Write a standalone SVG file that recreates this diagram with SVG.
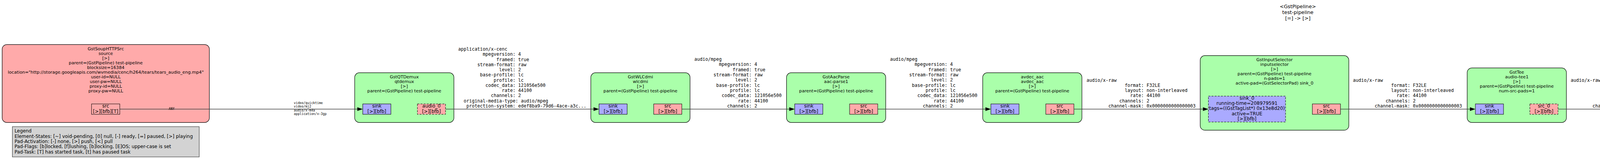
<svg xmlns="http://www.w3.org/2000/svg" width="6645" height="408" viewBox="0 0 6645 408">
<style>
.nd{stroke:#000;stroke-width:1.2}
.g{fill:#aaffaa}.r{fill:#ffaaaa}.b{fill:#aaaaff}.l{fill:#ddddff}.w{fill:#ffffff}
.pd{stroke:#000;stroke-width:1}
.ds{stroke-dasharray:5,3}
.lb{font-family:"DejaVu Sans","Liberation Sans",sans-serif;font-size:11.1px;text-anchor:middle;fill:#000}
.pt{font-family:"DejaVu Sans","Liberation Sans",sans-serif;font-size:12px;text-anchor:middle;fill:#000}
.tt{font-family:"DejaVu Sans","Liberation Sans",sans-serif;font-size:12.8px;text-anchor:middle;fill:#000}
.lg{font-family:"DejaVu Sans","Liberation Sans",sans-serif;font-size:11.9px;fill:#000}
.mo{font-family:"DejaVu Sans Mono","Liberation Mono",monospace;font-size:11.6px;fill:#000}
.sm{font-family:"DejaVu Sans Mono","Liberation Mono",monospace;font-size:8.2px;fill:#000}
.e{stroke:#444;stroke-width:1.5;fill:none}
.e2{stroke:#111;stroke-width:1.1;fill:none}
.ah{fill:#000}
</style>
<rect x="0" y="0" width="6645" height="408" fill="#ffffff"/>
<g id="title">
<text class="tt" x="3322.5" y="20.7">&lt;GstPipeline&gt;</text>
<text class="tt" x="3322.5" y="35.7">test-pipeline</text>
<text class="tt" x="3322.5" y="50.7">[=] -&gt; [&gt;]</text>
</g>
<g id="legend">
<rect x="31.6" y="325" width="478.4" height="77.7" fill="#d3d3d3" stroke="#444" stroke-width="1.2"/>
<text class="lg" x="37.2" y="340">Legend</text>
<text class="lg" x="37.2" y="354">Element-States: [~] void-pending, [0] null, [-] ready, [=] paused, [&gt;] playing</text>
<text class="lg" x="37.2" y="367">Pad-Activation: [-] none, [&gt;] push, [&lt;] pull</text>
<text class="lg" x="37.2" y="380.3">Pad-Flags: [b]locked, [f]lushing, [b]locking, [E]OS; upper-case is set</text>
<text class="lg" x="37.2" y="393.6">Pad-Task: [T] has started task, [t] has paused task</text>
</g>
<g id="source">
<rect class="nd r" x="5.5" y="114.3" width="530.5" height="200" rx="12"/>
<text class="lb"><tspan x="270.75" y="129.3">GstSoupHTTPSrc</tspan><tspan x="270.75" y="141.3">source</tspan><tspan x="270.75" y="153.3">[&gt;]</tspan><tspan x="270.75" y="165.3">parent=(GstPipeline) test-pipeline</tspan><tspan x="270.75" y="177.3">blocksize=16384</tspan><tspan x="270.75" y="189.3">location="http://storage.googleapis.com/wvmedia/cenc/h264/tears/tears_audio_eng.mp4"</tspan><tspan x="270.75" y="201.3">user-id=NULL</tspan><tspan x="270.75" y="213.3">user-pw=NULL</tspan><tspan x="270.75" y="225.3">proxy-id=NULL</tspan><tspan x="270.75" y="237.3">proxy-pw=NULL</tspan></text>
<rect class="pd r" x="234.3" y="266.7" width="72.4" height="26.6"/>
<text class="pt"><tspan x="270.5" y="275.9">src</tspan><tspan x="270.5" y="289.6">[&gt;][bfb][T]</tspan></text>
</g>
<g id="qtdemux">
<rect class="nd g" x="908" y="186.7" width="254" height="127.6" rx="12"/>
<text class="lb"><tspan x="1035" y="201.3">GstQTDemux</tspan><tspan x="1035" y="213.3">qtdemux</tspan><tspan x="1035" y="225.3">[&gt;]</tspan><tspan x="1035" y="237.3">parent=(GstPipeline) test-pipeline</tspan></text>
<rect class="pd b" x="928.7" y="266.7" width="72" height="26.6"/>
<text class="pt"><tspan x="964.7" y="275.9">sink</tspan><tspan x="964.7" y="289.6">[&gt;][bfb]</tspan></text>
<rect class="pd r ds" x="1068.5" y="266.7" width="72" height="26.6"/>
<text class="pt"><tspan x="1104.5" y="275.9">audio_0</tspan><tspan x="1104.5" y="289.6">[&gt;][bfb]</tspan></text>
</g>
<g id="wlcdmi">
<rect class="nd g" x="1512.5" y="186.7" width="254" height="127.6" rx="12"/>
<text class="lb"><tspan x="1639.5" y="201.3">GstWLCdmi</tspan><tspan x="1639.5" y="213.3">wlcdmi</tspan><tspan x="1639.5" y="225.3">[&gt;]</tspan><tspan x="1639.5" y="237.3">parent=(GstPipeline) test-pipeline</tspan></text>
<rect class="pd b" x="1533.5" y="266.7" width="72" height="26.6"/>
<text class="pt"><tspan x="1569.5" y="275.9">sink</tspan><tspan x="1569.5" y="289.6">[&gt;][bfb]</tspan></text>
<rect class="pd r" x="1673.5" y="266.7" width="72" height="26.6"/>
<text class="pt"><tspan x="1709.5" y="275.9">src</tspan><tspan x="1709.5" y="289.6">[&gt;][bfb]</tspan></text>
</g>
<g id="aac-parse1">
<rect class="nd g" x="2013.5" y="186.7" width="254" height="127.6" rx="12"/>
<text class="lb"><tspan x="2140.5" y="201.3">GstAacParse</tspan><tspan x="2140.5" y="213.3">aac-parse1</tspan><tspan x="2140.5" y="225.3">[&gt;]</tspan><tspan x="2140.5" y="237.3">parent=(GstPipeline) test-pipeline</tspan></text>
<rect class="pd b" x="2034.5" y="266.7" width="72" height="26.6"/>
<text class="pt"><tspan x="2070.5" y="275.9">sink</tspan><tspan x="2070.5" y="289.6">[&gt;][bfb]</tspan></text>
<rect class="pd r" x="2175" y="266.7" width="72" height="26.6"/>
<text class="pt"><tspan x="2211" y="275.9">src</tspan><tspan x="2211" y="289.6">[&gt;][bfb]</tspan></text>
</g>
<g id="avdec_aac">
<rect class="nd g" x="2515.7" y="186.7" width="254" height="127.6" rx="12"/>
<text class="lb"><tspan x="2642.7" y="201.3">avdec_aac</tspan><tspan x="2642.7" y="213.3">avdec_aac</tspan><tspan x="2642.7" y="225.3">[&gt;]</tspan><tspan x="2642.7" y="237.3">parent=(GstPipeline) test-pipeline</tspan></text>
<rect class="pd b" x="2536.7" y="266.7" width="72" height="26.6"/>
<text class="pt"><tspan x="2572.7" y="275.9">sink</tspan><tspan x="2572.7" y="289.6">[&gt;][bfb]</tspan></text>
<rect class="pd r" x="2677.2" y="266.7" width="72" height="26.6"/>
<text class="pt"><tspan x="2713.2" y="275.9">src</tspan><tspan x="2713.2" y="289.6">[&gt;][bfb]</tspan></text>
</g>
<g id="inputselector">
<rect class="nd g" x="3072.5" y="142.7" width="380.5" height="191.5" rx="12"/>
<text class="lb"><tspan x="3262.75" y="157.3">GstInputSelector</tspan><tspan x="3262.75" y="169.3">inputselector</tspan><tspan x="3262.75" y="181.3">[&gt;]</tspan><tspan x="3262.75" y="193.3">parent=(GstPipeline) test-pipeline</tspan><tspan x="3262.75" y="205.3">n-pads=1</tspan><tspan x="3262.75" y="217.3">active-pad=(GstSelectorPad) sink_0</tspan></text>
<rect class="pd b ds" x="3093.5" y="246.7" width="197.5" height="66.3"/>
<text class="pt"><tspan x="3192.25" y="255.7">sink_0</tspan><tspan x="3192.25" y="269">running-time=208979591</tspan><tspan x="3192.25" y="282.3">tags=((GstTagList*) 0x13e8d20)</tspan><tspan x="3192.25" y="295.6">active=TRUE</tspan><tspan x="3192.25" y="308.9">[&gt;][bfb]</tspan></text>
<rect class="pd r" x="3359.6" y="266.7" width="72" height="26.6"/>
<text class="pt"><tspan x="3395.6" y="275.9">src</tspan><tspan x="3395.6" y="289.6">[&gt;][bfb]</tspan></text>
</g>
<g id="audio-tee1">
<rect class="nd g" x="3756" y="174.3" width="254" height="140" rx="12"/>
<text class="lb"><tspan x="3883" y="189.3">GstTee</tspan><tspan x="3883" y="201.3">audio-tee1</tspan><tspan x="3883" y="213.3">[&gt;]</tspan><tspan x="3883" y="225.3">parent=(GstPipeline) test-pipeline</tspan><tspan x="3883" y="237.3">num-src-pads=1</tspan></text>
<rect class="pd b" x="3777" y="266.7" width="72" height="26.6"/>
<text class="pt"><tspan x="3813" y="275.9">sink</tspan><tspan x="3813" y="289.6">[&gt;][bfb]</tspan></text>
<rect class="pd r ds" x="3916.5" y="266.7" width="72" height="26.6"/>
<text class="pt"><tspan x="3952.5" y="275.9">src_0</tspan><tspan x="3952.5" y="289.6">[&gt;][bfb]</tspan></text>
</g>
<g id="streamsynchronizer">
<rect class="nd g" x="4313.5" y="186.7" width="254" height="127.6" rx="12"/>
<text class="lb"><tspan x="4440.5" y="201.3">GstStreamSynchronizer</tspan><tspan x="4440.5" y="213.3">streamsynchronizer</tspan><tspan x="4440.5" y="225.3">[&gt;]</tspan><tspan x="4440.5" y="237.3">parent=(GstPipeline) test-pipeline</tspan></text>
<rect class="pd b ds" x="4334.5" y="266.7" width="72" height="26.6"/>
<text class="pt"><tspan x="4370.5" y="275.9">sink_0</tspan><tspan x="4370.5" y="289.6">[&gt;][bfb]</tspan></text>
<rect class="pd r ds" x="4474.5" y="266.7" width="72" height="26.6"/>
<text class="pt"><tspan x="4510.5" y="275.9">src_0</tspan><tspan x="4510.5" y="289.6">[&gt;][bfb]</tspan></text>
</g>
<g id="convert">
<rect class="nd g" x="4870" y="186.7" width="254" height="127.6" rx="12"/>
<text class="lb"><tspan x="4997" y="201.3">GstAudioConvert</tspan><tspan x="4997" y="213.3">convert</tspan><tspan x="4997" y="225.3">[&gt;]</tspan><tspan x="4997" y="237.3">parent=(GstPipeline) test-pipeline</tspan></text>
<rect class="pd b" x="4891" y="266.7" width="72" height="26.6"/>
<text class="pt"><tspan x="4927" y="275.9">sink</tspan><tspan x="4927" y="289.6">[&gt;][bfb]</tspan></text>
<rect class="pd r" x="5031" y="266.7" width="72" height="26.6"/>
<text class="pt"><tspan x="5067" y="275.9">src</tspan><tspan x="5067" y="289.6">[&gt;][bfb]</tspan></text>
</g>
<g id="resample">
<rect class="nd g" x="5427.7" y="186.7" width="254" height="127.6" rx="12"/>
<text class="lb"><tspan x="5554.7" y="201.3">GstAudioResample</tspan><tspan x="5554.7" y="213.3">resample</tspan><tspan x="5554.7" y="225.3">[&gt;]</tspan><tspan x="5554.7" y="237.3">parent=(GstPipeline) test-pipeline</tspan></text>
<rect class="pd b" x="5448.7" y="266.7" width="72" height="26.6"/>
<text class="pt"><tspan x="5484.7" y="275.9">sink</tspan><tspan x="5484.7" y="289.6">[&gt;][bfb]</tspan></text>
<rect class="pd r" x="5589.2" y="266.7" width="72" height="26.6"/>
<text class="pt"><tspan x="5625.2" y="275.9">src</tspan><tspan x="5625.2" y="289.6">[&gt;][bfb]</tspan></text>
</g>
<g id="sink">
<rect class="nd w" x="5985.5" y="70.3" width="653.5" height="244" rx="12"/>
<text class="lb"><tspan x="6312" y="85.3">GstAutoAudioSink</tspan><tspan x="6312" y="97.3">sink</tspan><tspan x="6312" y="109.3">[=]</tspan><tspan x="6312" y="121.3">parent=(GstPipeline) test-pipeline</tspan><tspan x="6312" y="133.3">filter-caps=audio/x-raw</tspan></text>
<rect class="pd l" x="6005.7" y="230.7" width="72" height="26"/>
<text class="pt"><tspan x="6041.7" y="239.3">proxypad0</tspan><tspan x="6041.7" y="253.3">[&gt;][bfb]</tspan></text>
<rect class="pd l" x="6005.7" y="266.7" width="72" height="26"/>
<text class="pt"><tspan x="6041.7" y="276">sink</tspan><tspan x="6041.7" y="289.8">[&gt;][bfb]</tspan></text>
<g id="sink-actual-sink-alsa">
<rect class="nd b" x="6425.6" y="151.7" width="203.4" height="152.3" rx="12"/>
<text class="lb"><tspan x="6527.3" y="166.3">GstAlsaSink</tspan><tspan x="6527.3" y="178.3">sink-actual-sink-alsa</tspan><tspan x="6527.3" y="190.3">[&gt;]</tspan><tspan x="6527.3" y="202.3">parent=(GstAutoAudioSink) sink</tspan><tspan x="6527.3" y="214.3">enable-last-sample=FALSE</tspan><tspan x="6527.3" y="226.3">card-name=NULL</tspan></text>
<rect class="pd b" x="6490.7" y="255.7" width="72.6" height="27"/>
<text class="pt"><tspan x="6527" y="265.3">sink</tspan><tspan x="6527" y="279">[&gt;][bfb]</tspan></text>
</g>
</g>
<g id="connectors">
<line class="e" x1="306.7" y1="280" x2="914.7" y2="280"/><polygon class="ah" points="928.7,280 914.7,275.35 914.7,284.65"/>
<line class="e" x1="1140.5" y1="280" x2="1519.5" y2="280"/><polygon class="ah" points="1533.5,280 1519.5,275.35 1519.5,284.65"/>
<line class="e" x1="1745.5" y1="280" x2="2020.5" y2="280"/><polygon class="ah" points="2034.5,280 2020.5,275.35 2020.5,284.65"/>
<line class="e" x1="2247" y1="280" x2="2522.7" y2="280"/><polygon class="ah" points="2536.7,280 2522.7,275.35 2522.7,284.65"/>
<line class="e" x1="2749.2" y1="280" x2="3079.5" y2="280"/><polygon class="ah" points="3093.5,280 3079.5,275.35 3079.5,284.65"/>
<line class="e" x1="3431.6" y1="280" x2="3763" y2="280"/><polygon class="ah" points="3777,280 3763,275.35 3763,284.65"/>
<line class="e" x1="3988.5" y1="280" x2="4320.5" y2="280"/><polygon class="ah" points="4334.5,280 4320.5,275.35 4320.5,284.65"/>
<line class="e" x1="4546.5" y1="280" x2="4877" y2="280"/><polygon class="ah" points="4891,280 4877,275.35 4877,284.65"/>
<line class="e" x1="5103" y1="280" x2="5434.7" y2="280"/><polygon class="ah" points="5448.7,280 5434.7,275.35 5434.7,284.65"/>
<line class="e" x1="5661.2" y1="280" x2="5991.7" y2="280"/><polygon class="ah" points="6005.7,280 5991.7,275.35 5991.7,284.65"/>
<polygon class="ah" points="6042,256.7 6037.35,266.7 6046.65,266.7"/>
<line class="e2" x1="6077.7" y1="245" x2="6476.7" y2="265.77"/><polygon class="ah" points="6490.7,266.5 6476.94,261.13 6476.46,270.41"/>
<text class="sm" x="439.5" y="282" text-anchor="middle">ANY</text>
<text class="sm"><tspan x="752.3" y="267">video/quicktime</tspan><tspan x="752.3" y="276.3">video/mj2</tspan><tspan x="752.3" y="285.6">audio/x-m4a</tspan><tspan x="752.3" y="294.9">application/x-3gp</tspan></text>
<text class="mo"><tspan x="1173" y="130">application/x-cenc</tspan><tspan x="1235.86" y="143.27">mpegversion: 4</tspan><tspan x="1270.78" y="156.54">framed: true</tspan><tspan x="1221.89" y="169.81">stream-format: raw</tspan><tspan x="1277.76" y="183.08">level: 2</tspan><tspan x="1228.87" y="196.35">base-profile: lc</tspan><tspan x="1263.79" y="209.62">profile: lc</tspan><tspan x="1242.84" y="222.89">codec_data: 121056e500</tspan><tspan x="1284.74" y="236.16">rate: 44100</tspan><tspan x="1256.81" y="249.43">channels: 2</tspan><tspan x="1186.97" y="262.7">original-media-type: audio/mpeg</tspan><tspan x="1193.95" y="275.97">protection-system: edef8ba9-79d6-4ace-a3c...</tspan></text>
<text class="mo"><tspan x="1777.6" y="156">audio/mpeg</tspan><tspan x="1840.46" y="169.33">mpegversion: 4</tspan><tspan x="1875.38" y="182.67">framed: true</tspan><tspan x="1826.49" y="196">stream-format: raw</tspan><tspan x="1882.36" y="209.33">level: 2</tspan><tspan x="1833.47" y="222.67">base-profile: lc</tspan><tspan x="1868.39" y="236">profile: lc</tspan><tspan x="1847.44" y="249.33">codec_data: 121056e500</tspan><tspan x="1889.34" y="262.67">rate: 44100</tspan><tspan x="1861.41" y="276">channels: 2</tspan></text>
<text class="mo"><tspan x="2278.6" y="156">audio/mpeg</tspan><tspan x="2341.46" y="169.33">mpegversion: 4</tspan><tspan x="2376.38" y="182.67">framed: true</tspan><tspan x="2327.49" y="196">stream-format: raw</tspan><tspan x="2383.36" y="209.33">level: 2</tspan><tspan x="2334.47" y="222.67">base-profile: lc</tspan><tspan x="2369.39" y="236">profile: lc</tspan><tspan x="2348.44" y="249.33">codec_data: 121056e500</tspan><tspan x="2390.34" y="262.67">rate: 44100</tspan><tspan x="2362.41" y="276">channels: 2</tspan></text>
<text class="mo"><tspan x="2781.6" y="209.7">audio/x-raw</tspan><tspan x="2879.38" y="222.96">format: F32LE</tspan><tspan x="2879.38" y="236.22">layout: non-interleaved</tspan><tspan x="2893.34" y="249.48">rate: 44100</tspan><tspan x="2865.41" y="262.74">channels: 2</tspan><tspan x="2837.47" y="276">channel-mask: 0x0000000000000003</tspan></text>
<text class="mo"><tspan x="3463.5" y="209.7">audio/x-raw</tspan><tspan x="3561.28" y="222.96">format: F32LE</tspan><tspan x="3561.28" y="236.22">layout: non-interleaved</tspan><tspan x="3575.24" y="249.48">rate: 44100</tspan><tspan x="3547.31" y="262.74">channels: 2</tspan><tspan x="3519.37" y="276">channel-mask: 0x0000000000000003</tspan></text>
<text class="mo"><tspan x="4021" y="209.7">audio/x-raw</tspan><tspan x="4118.78" y="222.96">format: F32LE</tspan><tspan x="4118.78" y="236.22">layout: non-interleaved</tspan><tspan x="4132.74" y="249.48">rate: 44100</tspan><tspan x="4104.81" y="262.74">channels: 2</tspan><tspan x="4076.87" y="276">channel-mask: 0x0000000000000003</tspan></text>
<text class="mo"><tspan x="4578.2" y="209.7">audio/x-raw</tspan><tspan x="4675.98" y="222.96">format: F32LE</tspan><tspan x="4675.98" y="236.22">layout: non-interleaved</tspan><tspan x="4689.94" y="249.48">rate: 44100</tspan><tspan x="4662.01" y="262.74">channels: 2</tspan><tspan x="4634.07" y="276">channel-mask: 0x0000000000000003</tspan></text>
<text class="mo"><tspan x="5135.2" y="209.7">audio/x-raw</tspan><tspan x="5246.94" y="222.96">rate: 44100</tspan><tspan x="5232.98" y="236.22">format: S32LE</tspan><tspan x="5219.01" y="249.48">channels: 2</tspan><tspan x="5232.98" y="262.74">layout: interleaved</tspan><tspan x="5191.07" y="276">channel-mask: 0x0000000000000003</tspan></text>
<text class="mo"><tspan x="5693.5" y="209.7">audio/x-raw</tspan><tspan x="5805.24" y="222.96">rate: 44100</tspan><tspan x="5791.28" y="236.22">format: S32LE</tspan><tspan x="5777.31" y="249.48">channels: 2</tspan><tspan x="5791.28" y="262.74">layout: interleaved</tspan><tspan x="5749.37" y="276">channel-mask: 0x0000000000000003</tspan></text>
<text class="mo"><tspan x="6110.4" y="177.7">audio/x-raw</tspan><tspan x="6222.14" y="190.96">rate: 44100</tspan><tspan x="6208.18" y="204.22">format: S32LE</tspan><tspan x="6194.21" y="217.48">channels: 2</tspan><tspan x="6208.18" y="230.74">layout: interleaved</tspan><tspan x="6166.27" y="244">channel-mask: 0x0000000000000003</tspan></text>
</g>
</svg>
